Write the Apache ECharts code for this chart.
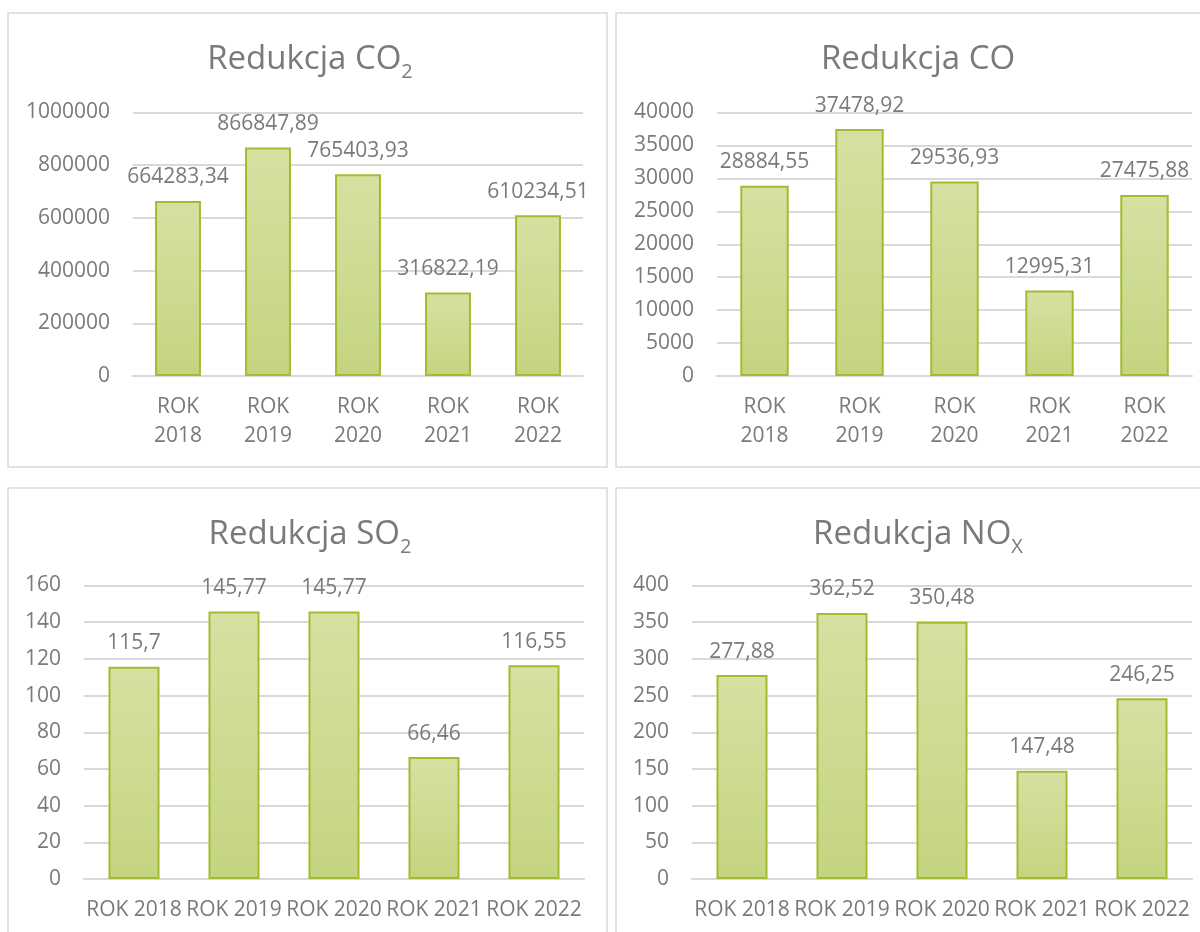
<!DOCTYPE html>
<html>
<head>
<meta charset="utf-8">
<script src="https://cdn.jsdelivr.net/npm/echarts@6/dist/echarts.min.js"></script>
<style>
html,body{margin:0;padding:0;background:#fff;}
#c{width:1200px;height:932px;}
</style>
</head>
<body>
<div id="c"></div>
<script>
// ---- data ----
const categoriesTop = ['ROK\n2018', 'ROK\n2019', 'ROK\n2020', 'ROK\n2021', 'ROK\n2022'];
const categoriesBottom = ['ROK 2018', 'ROK 2019', 'ROK 2020', 'ROK 2021', 'ROK 2022'];
const co2Values = [664283.34, 866847.89, 765403.93, 316822.19, 610234.51];
const coValues = [28884.55, 37478.92, 29536.93, 12995.31, 27475.88];
const so2Values = [115.7, 145.77, 145.77, 66.46, 116.55];
const noxValues = [277.88, 362.52, 350.48, 147.48, 246.25];
const yMax = [1000000, 40000, 160, 400];
const yInterval = [200000, 5000, 20, 50];
const titleMain = ['Redukcja CO', 'Redukcja CO', 'Redukcja SO', 'Redukcja NO'];
const titleSub = ['2', '', '2', 'X'];

// ---- styles ----
const FONT = '"Open Sans", "Noto Sans", sans-serif';
const TXT = '#7a7a7a';
const GRID_C = '#d9d9d9';

const grids = [
  {left: 133, right: 617, top: 112.5, bottom: 556},
  {left: 717, right: 8, top: 112.5, bottom: 556},
  {left: 84, right: 616, top: 585.5, bottom: 53},
  {left: 692, right: 8, top: 585.5, bottom: 53}
];
const titlePos = [
  {left: 310, top: 38},
  {left: 918, top: 38},
  {left: 310, top: 513},
  {left: 918, top: 513}
];
const seriesData = [co2Values, coValues, so2Values, noxValues];
const cats = [categoriesTop, categoriesTop, categoriesBottom, categoriesBottom];

const option = {
  backgroundColor: '#fff',
  animation: false,
  title: titlePos.map((p, i) => ({
    text: '{a|' + titleMain[i] + '}' + (titleSub[i] ? '{s|' + titleSub[i] + '}' : ''),
    left: p.left,
    top: p.top,
    textAlign: 'center',
    padding: 0,
    textStyle: {
      fontWeight: 'normal',
      rich: {
        a: {fontSize: 33, fontWeight: 'normal', color: TXT, fontFamily: FONT, lineHeight: 44},
        s: {fontSize: 20, fontWeight: 'normal', color: TXT, fontFamily: FONT, lineHeight: 16, verticalAlign: 'bottom'}
      }
    }
  })),
  graphic: [
    {type: 'rect', shape: {x: 8, y: 13, width: 599, height: 454}, style: {fill: 'none', stroke: GRID_C, lineWidth: 1.5}, silent: true},
    {type: 'rect', shape: {x: 616, y: 13, width: 620, height: 454}, style: {fill: 'none', stroke: GRID_C, lineWidth: 1.5}, silent: true},
    {type: 'rect', shape: {x: 8, y: 488, width: 599, height: 480}, style: {fill: 'none', stroke: GRID_C, lineWidth: 1.5}, silent: true},
    {type: 'rect', shape: {x: 616, y: 488, width: 620, height: 480}, style: {fill: 'none', stroke: GRID_C, lineWidth: 1.5}, silent: true}
  ],
  grid: grids,
  xAxis: grids.map((g, i) => ({
    type: 'category',
    gridIndex: i,
    data: cats[i],
    axisTick: {show: false},
    axisLine: {show: true, lineStyle: {color: GRID_C, width: 2}},
    axisLabel: {color: TXT, fontFamily: FONT, fontSize: 21, lineHeight: 29, margin: 17, interval: 0}
  })),
  yAxis: grids.map((g, i) => ({
    type: 'value',
    gridIndex: i,
    min: 0,
    max: yMax[i],
    interval: yInterval[i],
    axisLine: {show: false},
    axisTick: {show: false},
    splitLine: {lineStyle: {color: GRID_C, width: 2}},
    axisLabel: {color: TXT, fontFamily: FONT, fontSize: 21, margin: 23, formatter: v => String(v)}
  })),
  series: seriesData.map((d, i) => ({
    type: 'bar',
    xAxisIndex: i,
    yAxisIndex: i,
    data: d,
    barCategoryGap: '49%',
    itemStyle: {
      color: new echarts.graphic.LinearGradient(0, 0, 0, 1, [
        {offset: 0, color: '#d6e1a2'},
        {offset: 1, color: '#c5d480'}
      ]),
      borderColor: '#9fbd2f',
      borderWidth: 2
    },
    label: {
      show: true,
      position: 'top',
      distance: 13,
      color: TXT,
      fontFamily: FONT,
      fontSize: 21,
      formatter: p => String(p.value).replace('.', ',')
    }
  }))
};

const chart = echarts.init(document.getElementById('c'), null, {renderer: 'canvas'});
chart.setOption(option);
</script>
</body>
</html>
